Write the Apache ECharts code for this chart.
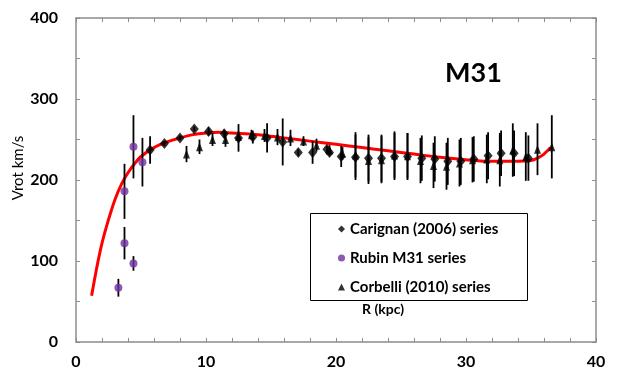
<!DOCTYPE html>
<html>
<head>
<meta charset="utf-8">
<script src="https://cdn.jsdelivr.net/npm/echarts@6/dist/echarts.min.js"></script>
<style>
  html, body { margin: 0; padding: 0; background: #fff; }
  #main { width: 623px; height: 381px; }
</style>
</head>
<body>
<div id="main"></div>
<script>
var myChart = echarts.init(document.getElementById('main'));

// Carignan (2006) - diamonds
var carignanR = [5.7, 6.8, 8.0, 9.1, 10.2, 11.4, 12.5, 13.6, 14.7, 15.9, 17.1, 18.2, 19.3, 19.5, 20.4,
    21.5, 22.5, 23.5, 24.5, 25.5, 26.6, 27.6, 28.6, 29.6, 30.6, 31.7, 32.7, 33.7, 34.8];
var carignanV = [237, 245, 252, 263, 260, 257, 252, 253, 252, 247, 234, 234, 238, 234, 229,
    228, 227, 227, 229, 229, 227, 226, 223, 223, 226, 230, 233, 233, 227];
var carignanErr = [17, 3, 3, 3, 5, 5, 17, 8, 18, 29, 4, 14, 4, 4, 13,
    28, 29, 29, 29, 29, 28, 28, 29, 29, 28, 29, 28, 28, 28];

// Rubin M31 - purple circles
var rubinR = [3.26, 3.73, 3.73, 4.42, 4.42, 5.11];
var rubinV = [67, 122, 186, 97, 241, 222];
var rubinErr = [11, 20, 34, 9, 39, 30];

// Corbelli (2010) - triangles
var corbelliR = [8.5, 9.5, 10.5, 11.5, 12.5, 13.5, 14.5, 15.5, 16.5, 17.5, 18.5, 19.5, 20.5, 21.5,
    22.5, 23.5, 24.5, 25.5, 26.5, 27.5, 28.5, 29.5, 30.5, 31.6, 32.6, 33.6, 34.6, 35.5, 36.6];
var corbelliV = [232, 241, 250, 250, 254, 256, 255, 253, 252, 248, 243, 237, 233, 231,
    224, 225, 231, 230, 224, 218, 217, 221, 225, 226, 225, 237, 229, 238, 241];
var corbelliErr = [10, 9, 8, 9, 6, 6, 8, 10, 10, 6, 8, 6, 8, 28,
    29, 29, 29, 28, 28, 28, 29, 29, 28, 30, 33, 33, 30, 32, 39];

// model curve (red)
var curveR = [1.2, 1.6, 2, 2.5, 3, 3.5, 4, 4.5, 5, 6, 7, 8, 9, 10, 11, 12, 14, 16, 18, 20,
    22, 24, 26, 28, 30, 32, 34, 35, 35.5, 36, 36.5];
var curveV = [57, 92, 122, 151, 176, 195, 209, 220, 229, 240, 247, 252, 256, 258, 259, 258, 256, 252, 248, 244,
    240, 236, 232, 228, 225, 223, 223, 224, 227, 232, 240];

var xTicks = [0, 10, 20, 30, 40];
var yTicks = [0, 100, 200, 300, 400];

var font = 'Lato, "Open Sans", sans-serif';

function pts(r, v) {
    var res = [];
    for (var i = 0; i < r.length; i++) res.push([r[i], v[i]]);
    return res;
}
function bars(r, v, e) {
    var res = [];
    for (var i = 0; i < r.length; i++) res.push([r[i], v[i] - e[i], v[i] + e[i]]);
    return res;
}
var allBars = bars(carignanR, carignanV, carignanErr)
    .concat(bars(rubinR, rubinV, rubinErr))
    .concat(bars(corbelliR, corbelliV, corbelliErr));

var frameLine = { show: true, onZero: false, lineStyle: { color: '#8c8c8c', width: 1.5 } };
var frameTick = { show: true, inside: true, length: 4, lineStyle: { color: '#8c8c8c', width: 1 } };

option = {
    backgroundColor: '#fff',
    animation: false,
    grid: { left: 76, right: 27, top: 18, bottom: 39 },
    xAxis: [{
        type: 'value', min: 0, max: 40, interval: 2,
        axisLine: frameLine, axisTick: frameTick, splitLine: { show: false },
        axisLabel: {
            margin: 12, color: '#000', fontFamily: font, fontWeight: 'bold', fontSize: 16,
            formatter: function (v) { return xTicks.indexOf(v) >= 0 ? String(v) : ''; }
        }
    }, {
        type: 'value', position: 'top', min: 0, max: 40, interval: 2,
        axisLine: frameLine, axisTick: frameTick, axisLabel: { show: false }, splitLine: { show: false }
    }],
    yAxis: [{
        type: 'value', min: 0, max: 400, interval: 50,
        axisLine: frameLine, axisTick: frameTick, splitLine: { show: false },
        axisLabel: {
            margin: 18, color: '#000', fontFamily: font, fontWeight: 'bold', fontSize: 16,
            formatter: function (v) { return yTicks.indexOf(v) >= 0 ? String(v) : ''; }
        }
    }, {
        type: 'value', position: 'right', min: 0, max: 400, interval: 50,
        axisLine: frameLine, axisTick: frameTick, axisLabel: { show: false }, splitLine: { show: false }
    }],
    legend: {
        orient: 'vertical',
        left: 333, top: 215,
        itemWidth: 7, itemHeight: 7, itemGap: 11,
        textStyle: { color: '#000', fontFamily: font, fontWeight: 'bold', fontSize: 15, lineHeight: 18 },
        data: ['Carignan (2006) series', 'Rubin M31 series', 'Corbelli (2010) series']
    },
    graphic: [
        { type: 'rect', left: 310, top: 213, shape: { width: 217, height: 87 },
          style: { fill: '#fff', stroke: '#000', lineWidth: 1 }, z: 0 },
        { type: 'text', left: 445, top: 60,
          style: { text: 'M31', fill: '#000', font: 'bold 27px ' + font } },
        { type: 'text', left: 362, top: 302,
          style: { text: 'R (kpc)', fill: '#000', font: 'bold 14px ' + font } },
        { type: 'text', x: 18, y: 168, rotation: Math.PI / 2,
          style: { text: 'Vrot km/s', fill: '#000', font: '15px ' + font, align: 'center', verticalAlign: 'middle' } }
    ],
    series: [
        {
            name: 'model', type: 'line', data: pts(curveR, curveV), smooth: 0.3,
            showSymbol: false, lineStyle: { color: '#ff0000', width: 3 }, z: 1
        },
        {
            name: 'errors', type: 'custom', data: allBars, z: 2,
            renderItem: function (params, api) {
                var lo = api.coord([api.value(0), api.value(1)]);
                var hi = api.coord([api.value(0), api.value(2)]);
                return {
                    type: 'line',
                    shape: { x1: lo[0], y1: lo[1], x2: hi[0], y2: hi[1] },
                    style: { stroke: '#000', lineWidth: 1.8 }
                };
            }
        },
        {
            name: 'Carignan (2006) series', type: 'scatter', data: pts(carignanR, carignanV),
            symbol: 'diamond', symbolSize: [9, 11], itemStyle: { color: '#000' }, z: 3
        },
        {
            name: 'Rubin M31 series', type: 'scatter', data: pts(rubinR, rubinV),
            symbol: 'circle', symbolSize: 8, itemStyle: { color: '#7030a0' }, z: 3
        },
        {
            name: 'Corbelli (2010) series', type: 'scatter', data: pts(corbelliR, corbelliV),
            symbol: 'triangle', symbolSize: [7, 9], itemStyle: { color: '#000' }, z: 3
        }
    ]
};

myChart.setOption(option);
</script>
</body>
</html>
